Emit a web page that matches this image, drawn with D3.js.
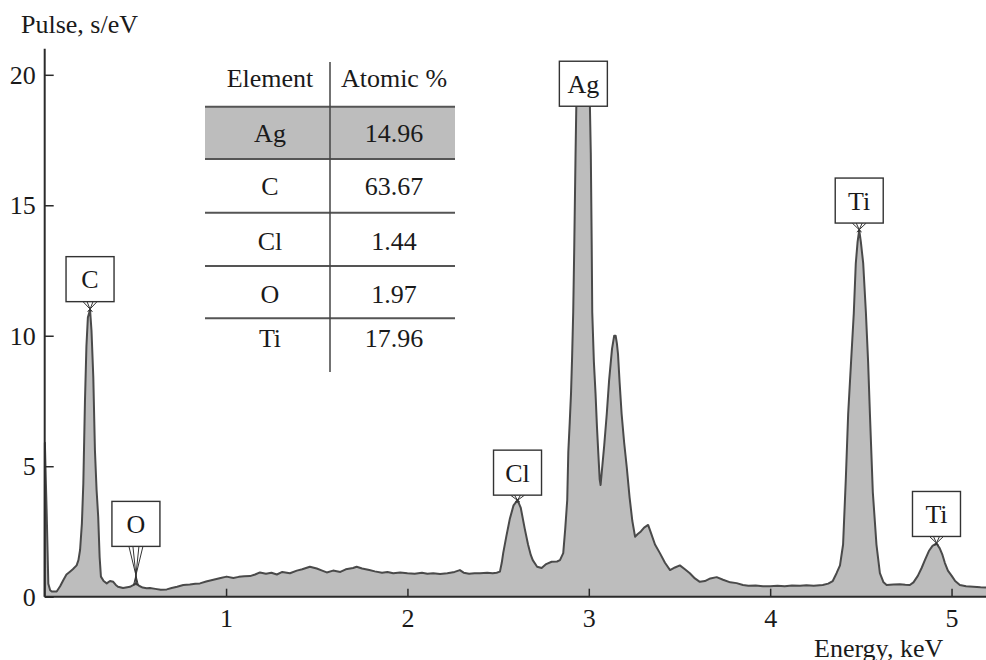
<!DOCTYPE html>
<html><head><meta charset="utf-8">
<script src="https://cdn.jsdelivr.net/npm/d3@7"></script>
<style>
html,body{margin:0;padding:0;background:#fff;}
svg{display:block;}
svg text{font-family:"Liberation Serif","Times New Roman",Times,serif !important;fill:#1a1a1a;}
</style></head>
<body>
<svg id="chart" width="986" height="660"></svg>
<script>
// ---- Data ----
const energy = [0.000,0.001,0.006,0.011,0.020,0.030,0.039,0.066,0.085,0.103,0.120,0.139,0.155,0.176,0.186,0.195,0.205,0.213,0.222,0.230,0.238,0.250,0.258,0.268,0.277,0.286,0.295,0.303,0.310,0.325,0.342,0.360,0.378,0.392,0.404,0.432,0.455,0.470,0.490,0.503,0.520,0.540,0.562,0.580,0.610,0.640,0.673,0.700,0.730,0.764,0.800,0.830,0.856,0.890,0.930,0.970,1.003,1.040,1.070,1.100,1.132,1.160,1.187,1.220,1.250,1.280,1.310,1.352,1.390,1.420,1.462,1.500,1.530,1.555,1.590,1.630,1.660,1.700,1.720,1.750,1.790,1.820,1.860,1.890,1.922,1.960,2.000,2.040,2.080,2.110,2.142,2.180,2.220,2.260,2.289,2.310,2.340,2.370,2.400,2.440,2.470,2.492,2.510,2.520,2.528,2.545,2.565,2.585,2.607,2.625,2.647,2.665,2.680,2.691,2.715,2.740,2.765,2.795,2.825,2.841,2.859,2.870,2.881,2.887,2.895,2.902,2.908,2.914,2.920,2.927,2.932,2.970,3.005,3.011,3.016,3.019,3.028,3.037,3.045,3.052,3.060,3.065,3.071,3.085,3.099,3.112,3.128,3.140,3.148,3.155,3.161,3.170,3.181,3.195,3.209,3.225,3.240,3.255,3.270,3.287,3.305,3.327,3.345,3.365,3.392,3.420,3.448,3.475,3.502,3.530,3.557,3.585,3.612,3.640,3.670,3.705,3.740,3.780,3.815,3.850,3.880,3.920,3.960,4.000,4.040,4.080,4.120,4.165,4.200,4.240,4.290,4.320,4.345,4.366,4.385,4.402,4.417,4.430,4.446,4.461,4.472,4.482,4.491,4.500,4.513,4.528,4.540,4.550,4.566,4.586,4.605,4.625,4.642,4.680,4.715,4.745,4.770,4.790,4.814,4.835,4.853,4.875,4.895,4.917,4.935,4.950,4.963,4.980,5.001,5.020,5.046,5.080,5.120,5.160,5.190];
const pulse = [0.0,5.9,4.5,3.2,0.5,0.25,0.2,0.2,0.4,0.64,0.85,0.96,1.05,1.2,1.4,1.79,2.8,4.35,7.5,9.6,10.7,11.0,10.2,8.4,5.6,4.1,3.06,1.5,0.77,0.6,0.51,0.6,0.57,0.45,0.38,0.33,0.36,0.38,0.45,0.51,0.42,0.35,0.32,0.33,0.3,0.27,0.28,0.33,0.38,0.45,0.47,0.5,0.51,0.58,0.65,0.72,0.77,0.72,0.76,0.78,0.79,0.85,0.93,0.88,0.92,0.85,0.95,0.9,1.0,1.05,1.15,1.08,1.0,0.93,1.0,0.95,1.05,1.1,1.15,1.08,1.02,0.97,0.92,0.95,0.9,0.93,0.9,0.88,0.92,0.88,0.9,0.87,0.9,0.95,1.02,0.92,0.88,0.9,0.9,0.92,0.9,0.92,0.96,1.3,1.67,2.3,3.0,3.5,3.7,3.4,2.6,2.0,1.6,1.4,1.15,1.1,1.25,1.34,1.35,1.4,1.67,2.6,3.7,5.55,6.7,7.8,9.2,10.9,13.5,17.0,19.2,19.6,19.2,17.0,13.5,10.9,9.0,7.8,6.5,5.55,4.5,4.28,4.74,5.8,7.0,8.3,9.5,10.0,10.0,9.7,9.3,8.2,7.0,5.9,4.98,3.8,2.9,2.3,2.4,2.5,2.65,2.75,2.4,2.0,1.67,1.3,1.02,1.12,1.2,1.05,0.9,0.7,0.57,0.6,0.7,0.75,0.65,0.55,0.52,0.45,0.42,0.43,0.4,0.4,0.42,0.4,0.43,0.42,0.44,0.42,0.45,0.5,0.6,0.9,1.2,2.0,4.5,7.0,9.0,10.86,12.77,13.6,14.05,13.6,12.77,10.86,9.0,7.0,4.0,2.0,0.9,0.55,0.45,0.47,0.48,0.46,0.45,0.55,0.8,1.1,1.4,1.75,1.95,2.04,1.85,1.6,1.3,1.0,0.8,0.6,0.45,0.4,0.38,0.36,0.35];

const peakLabels = ["C","O","Cl","Ag","Ti","Ti"];
const peakEnergy = [0.250,0.503,2.607,2.970,4.491,4.917];
const peakValue  = [11.0,0.51,3.7,19.6,14.05,2.04];

const xTicks = [1,2,3,4,5];
const yTicks = [0,5,10,15,20];

const tableElements = ["Ag","C","Cl","O","Ti"];
const tableAtomic = ["14.96","63.67","1.44","1.97","17.96"];
const tableHeaders = ["Element","Atomic %"];

// ---- Layout / style ----
const plot = {left:44.7, right:986, top:48.7, bottom:596.7};
const labelGap = [8, 37, 5, -21, 7, 7];   // px between box bottom and peak
const boxW = 48, boxH = 45;
const lineCol = "#4a4a4a", fillCol = "#bdbdbd", axisCol = "#2b2b2b";
const FS = 26;
const FF = "'Liberation Serif','Times New Roman',Times,serif";

const svg = d3.select("#chart");
const x = d3.scaleLinear().domain([0, 5.19]).range([plot.left, plot.right]);
const y = d3.scaleLinear().domain([0, 21]).range([plot.bottom, plot.top]);

const data = energy.map((e,i)=>({e, v:pulse[i]}));

svg.append("path").datum(data)
  .attr("d", d3.area().x(d=>x(d.e)).y0(y(0)).y1(d=>y(d.v)))
  .attr("fill", fillCol);
svg.append("path").datum(data)
  .attr("d", d3.line().x(d=>x(d.e)).y(d=>y(d.v)))
  .attr("fill","none").attr("stroke", lineCol).attr("stroke-width",2)
  .attr("stroke-linejoin","round");

const gx = svg.append("g").attr("transform",`translate(0,${plot.bottom})`)
  .call(d3.axisBottom(x).tickValues(xTicks).tickSize(-8).tickPadding(0).tickFormat(d3.format("d")));
gx.attr("font-family", FF);
gx.select(".domain").attr("d",`M${plot.left},0H${plot.right}`).attr("stroke",axisCol).attr("stroke-width",2);
gx.selectAll(".tick line").attr("stroke",axisCol).attr("stroke-width",1.5);
gx.selectAll(".tick text").attr("y",30).attr("dy",0).style("font-size",FS+"px").attr("fill","#1a1a1a");

const gy = svg.append("g").attr("transform",`translate(${plot.left},0)`)
  .call(d3.axisLeft(y).tickValues(yTicks).tickSize(-9).tickPadding(0).tickFormat(d3.format("d")));
gy.attr("font-family", FF);
gy.select(".domain").attr("d",`M0,${plot.top}V${plot.bottom}`).attr("stroke",axisCol).attr("stroke-width",2);
gy.selectAll(".tick line").attr("stroke",axisCol).attr("stroke-width",1.5);
gy.selectAll(".tick text").attr("x",-9).attr("dy","0.33em").style("font-size",FS+"px").attr("fill","#1a1a1a");

svg.append("text").attr("x",21).attr("y",33).style("font-size",FS+"px").text("Pulse, s/eV");
svg.append("text").attr("x",814).attr("y",657).style("font-size",FS+"px").text("Energy, keV");

peakLabels.forEach((lab,i)=>{
  const px = x(peakEnergy[i]), py = y(peakValue[i]);
  const by = py - labelGap[i];
  const g = svg.append("g");
  if (labelGap[i] > 0) {
    [-7,-3,3,7].forEach(o=>{
      g.append("line").attr("x1",px+o).attr("y1",by).attr("x2",px - o*0.35).attr("y2",py+2)
        .attr("stroke","#333").attr("stroke-width",1);
    });
  }
  g.append("rect").attr("x",px-boxW/2).attr("y",by-boxH).attr("width",boxW).attr("height",boxH)
    .attr("fill","#fff").attr("stroke","#333").attr("stroke-width",1.4);
  g.append("text").attr("x",px).attr("y",by-boxH/2).attr("dy","0.35em")
    .attr("text-anchor","middle").style("font-size",FS+"px").text(lab);
});

const tbl = svg.append("g");
const rowLines = [106.7,159,212.7,266,318.3];
tbl.append("rect").attr("x",205).attr("y",rowLines[0]).attr("width",250).attr("height",rowLines[1]-rowLines[0])
  .attr("fill",fillCol);
rowLines.forEach(ly=>{
  tbl.append("line").attr("x1",205).attr("x2",455).attr("y1",ly).attr("y2",ly)
    .attr("stroke","#555").attr("stroke-width",2);
});
tbl.append("line").attr("x1",330).attr("x2",330).attr("y1",62).attr("y2",372)
  .attr("stroke","#444").attr("stroke-width",1.5);
const col1 = 270, col2 = 394;
tbl.append("text").attr("x",col1).attr("y",86.7).attr("text-anchor","middle").style("font-size",FS+"px").text(tableHeaders[0]);
tbl.append("text").attr("x",col2).attr("y",86.7).attr("text-anchor","middle").style("font-size",FS+"px").text(tableHeaders[1]);
const rowBase = [141.7,195,250,302.7,347.3];
tableElements.forEach((el,i)=>{
  tbl.append("text").attr("x",col1).attr("y",rowBase[i]).attr("text-anchor","middle").style("font-size",FS+"px").text(el);
  tbl.append("text").attr("x",col2).attr("y",rowBase[i]).attr("text-anchor","middle").style("font-size",FS+"px").text(tableAtomic[i]);
});
</script>
</body></html>
